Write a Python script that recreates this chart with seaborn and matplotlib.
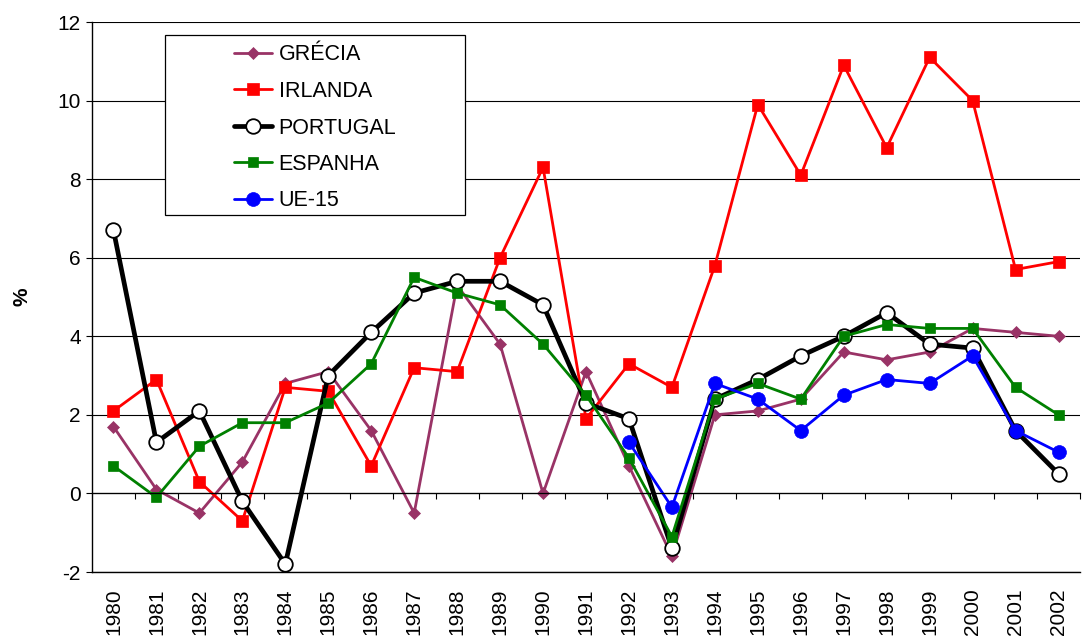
import matplotlib
matplotlib.use("Agg")
import matplotlib.pyplot as plt
from matplotlib.patches import Rectangle
import seaborn as sns
import numpy as np

years = list(range(1980, 2003))
year_labels = [str(y) for y in years]

grecia = [1.7, 0.1, -0.5, 0.8, 2.8, 3.1, 1.6, -0.5, 5.3, 3.8, 0.0, 3.1, 0.7, -1.6,
          2.0, 2.1, 2.4, 3.6, 3.4, 3.6, 4.2, 4.1, 4.0]
irlanda = [2.1, 2.9, 0.3, -0.7, 2.7, 2.6, 0.7, 3.2, 3.1, 6.0, 8.3, 1.9, 3.3, 2.7,
           5.8, 9.9, 8.1, 10.9, 8.8, 11.1, 10.0, 5.7, 5.9]
portugal = [6.7, 1.3, 2.1, -0.2, -1.8, 3.0, 4.1, 5.1, 5.4, 5.4, 4.8, 2.3, 1.9, -1.4,
            2.4, 2.9, 3.5, 4.0, 4.6, 3.8, 3.7, 1.6, 0.5]
espanha = [0.7, -0.1, 1.2, 1.8, 1.8, 2.3, 3.3, 5.5, 5.1, 4.8, 3.8, 2.5, 0.9, -1.1,
           2.4, 2.8, 2.4, 4.0, 4.3, 4.2, 4.2, 2.7, 2.0]
ue15_years = list(range(1992, 2003))
ue15 = [1.3, -0.35, 2.8, 2.4, 1.6, 2.5, 2.9, 2.8, 3.5, 1.6, 1.05]

sns.set_style("white")
plt.rcParams["font.family"] = ["Liberation Sans", "DejaVu Sans"]
plt.rcParams.update({"text.color": "black", "axes.labelcolor": "black",
                     "xtick.color": "black", "ytick.color": "black"})

fig = plt.figure(figsize=(10.83, 6.37), dpi=100)
ax = fig.add_axes([92 / 1083, 1 - 572 / 637, 988 / 1083, 550 / 637])

series = [
    ("GRÉCIA", years, grecia, dict(color="#993366", marker="D", markersize=6.6, lw=2.0,
                                   markerfacecolor="#993366", markeredgecolor="#993366", markeredgewidth=0.5)),
    ("IRLANDA", years, irlanda, dict(color="#FF0000", marker="s", markersize=9.2, lw=2.0,
                                     markerfacecolor="#FF0000", markeredgecolor="#FF0000", markeredgewidth=0.5)),
    ("PORTUGAL", years, portugal, dict(color="black", marker="o", markersize=10.5, lw=3.4,
                                       markerfacecolor="white", markeredgecolor="black", markeredgewidth=1.3)),
    ("ESPANHA", years, espanha, dict(color="#008000", marker="s", markersize=7.2, lw=2.0,
                                     markerfacecolor="#008000", markeredgecolor="#008000", markeredgewidth=0.5)),
    ("UE-15", ue15_years, ue15, dict(color="#0000FF", marker="o", markersize=10, lw=2.0,
                                     markerfacecolor="#0000FF", markeredgecolor="#0000FF", markeredgewidth=0.5)),
]

for i, (name, xs, ys, kw) in enumerate(series):
    sns.lineplot(x=xs, y=ys, ax=ax, label=name, zorder=3 + i, **kw)

ax.set_xlim(1979.5, 2002.5)
ax.set_ylim(-2, 12)
ax.set_yticks(np.arange(-2, 13, 2))
ax.set_yticklabels([str(v) for v in range(-2, 13, 2)])
ax.yaxis.grid(True, color="black", lw=0.8)
ax.xaxis.grid(False)
ax.set_axisbelow(True)

ax.set_xticks(years)
ax.set_xticklabels(year_labels, rotation=90)
ax.tick_params(axis="x", length=0, pad=12, labelsize=15)
ax.tick_params(axis="y", direction="out", length=4.5, width=0.8, pad=3.5, labelsize=15, left=True, color="black")

for s in ["top", "right"]:
    ax.spines[s].set_visible(False)
for s in ["left", "bottom"]:
    ax.spines[s].set_color("black")
    ax.spines[s].set_linewidth(1.0)

ax.set_ylabel("%", fontsize=15, fontweight="bold", labelpad=19)
ax.set_xlabel("")

# category axis crossing at zero with boundary tick marks
ax2 = ax.twiny()
ax2.set_xlim(ax.get_xlim())
ax2.spines["bottom"].set_position(("data", 0))
for s in ["top", "right", "left"]:
    ax2.spines[s].set_visible(False)
ax2.spines["bottom"].set_color("black")
ax2.spines["bottom"].set_linewidth(0.9)
ax2.xaxis.set_ticks_position("bottom")
ax2.set_xticks([y + 0.5 for y in years])
ax2.set_xticklabels([])
ax2.tick_params(axis="x", direction="out", length=4.5, width=0.8, color="black")
ax2.patch.set_visible(False)

# legend box
box_x0 = (165 - 92) / 988
box_x1 = (465 - 92) / 988
box_y1 = (572 - 35) / 550
box_y0 = (572 - 215) / 550
rect = Rectangle((box_x0, box_y0), box_x1 - box_x0, box_y1 - box_y0, transform=ax.transAxes,
                 facecolor="white", edgecolor="black", lw=0.9, zorder=10)
ax.add_patch(rect)
handles, labels = ax.get_legend_handles_labels()
leg = ax.legend(handles, labels, loc="center",
                bbox_to_anchor=((box_x0 + box_x1) / 2, (box_y0 + box_y1) / 2 - 3 / 550),
                frameon=False, fontsize=15.5, handlelength=1.8, handletextpad=0.3,
                labelspacing=0.72, borderpad=0.0)
leg.set_zorder(11)

fig.savefig("out.png", dpi=100)
